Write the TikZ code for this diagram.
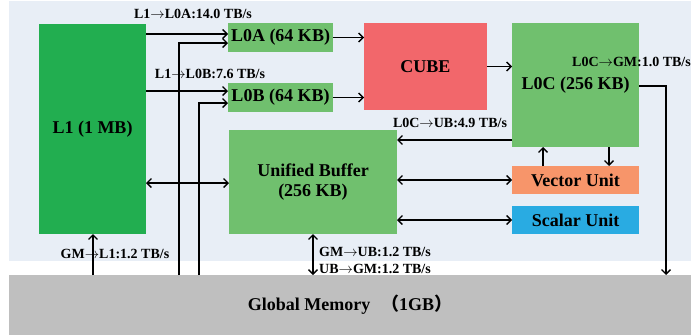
\documentclass[tikz,border=0pt]{standalone}
\usepackage{fontspec}
\setmainfont{Liberation Serif}
\newfontfamily\cjk{Noto Sans CJK SC}
\usetikzlibrary{arrows.meta}
\definecolor{bgblue}{RGB}{232,238,246}
\definecolor{dgreen}{RGB}{34,174,80}
\definecolor{lgreen}{RGB}{112,192,110}
\definecolor{cubered}{RGB}{242,103,107}
\definecolor{vecorange}{RGB}{247,149,106}
\definecolor{scablue}{RGB}{41,171,226}
\definecolor{gmgray}{RGB}{191,191,191}
\tikzset{
  blk/.style={inner sep=0pt, outer sep=0pt, font=\bfseries\fontsize{18}{20.5}\selectfont, align=center},
  lbl/.style={inner sep=0pt, font=\bfseries\fontsize{14}{15}\selectfont},
  arr/.style={line width=1.3pt, -{Straight Barb[length=4.5pt,width=9pt]}},
  darr/.style={line width=1.3pt, {Straight Barb[length=4.5pt,width=9pt]}-{Straight Barb[length=4.5pt,width=9pt]}}
}
\newcommand{\ra}{$\rightarrow$}
\begin{document}
\begin{tikzpicture}[x=1pt,y=-1pt]
\useasboundingbox (0,0) rectangle (691,335);
\fill[white] (0,0) rectangle (691,335);
\fill[bgblue] (9,1) rectangle (691,261);
\node[blk, fill=gmgray, minimum width=682pt, minimum height=60pt] (GM) at (350,305) {Global Memory\hspace{0.6em}{\cjk （}1GB{\cjk ）}};
\node[blk, fill=dgreen, minimum width=107pt, minimum height=210pt] (L1) at (92.5,129) {L1 (1 MB)};
\node[blk, fill=lgreen, minimum width=105pt, minimum height=29pt] (L0A) at (280.5,37.5) {L0A (64 KB)};
\node[blk, fill=lgreen, minimum width=105pt, minimum height=29pt] (L0B) at (280.5,97.5) {L0B (64 KB)};
\node[blk, fill=cubered, minimum width=123pt, minimum height=87pt] (CUBE) at (425.5,66.5) {CUBE};
\node[blk, fill=lgreen, minimum width=127pt, minimum height=124pt] (L0C) at (575.5,85) {L0C (256 KB)};
\node[blk, fill=lgreen, minimum width=168pt, minimum height=104pt] (UB) at (313,182) {Unified Buffer\\(256 KB)};
\node[blk, fill=vecorange, minimum width=127pt, minimum height=28pt] (VU) at (575.5,180) {Vector Unit};
\node[blk, fill=scablue, minimum width=127pt, minimum height=28pt] (SU) at (575.5,220) {Scalar Unit};

% L1 -> L0A / L0B
\draw[arr] (L1.east |- 0,34) -- (L0A.west |- 0,34);
\draw[arr] (L1.east |- 0,91) -- (L0B.west |- 0,91);
\node[lbl] (t1) at (193,14) {L1\ra L0A:14.0 TB/s};
\node[lbl] (t2) at (210,74) {L1\ra L0B:7.6 TB/s};
% GM -> L0A / L0B
\coordinate (g1) at (179,275);
\coordinate (g2) at (199,275);
\draw[arr] (g1) |- (L0A.west |- 0,43);
\draw[arr] (g2) |- (L0B.west |- 0,103);
% L0A/L0B -> CUBE
\draw[arr] (L0A.east) -- (CUBE.west |- L0A.east);
\draw[arr] (L0B.east) -- (CUBE.west |- L0B.east);
% CUBE -> L0C
\draw[arr] (CUBE.east) -- (L0C.west |- CUBE.east);
% L0C -> UB
\draw[arr] (L0C.west |- 0,140) -- (UB.east |- 0,140);
\node[lbl] (t3) at (450,123) {L0C\ra UB:4.9 TB/s};
% L0C -> GM
\coordinate (c1) at (666,86);
\draw[arr] (L0C.east |- c1) -- (c1) -- (c1 |- GM.north);
\node[lbl, anchor=east] (t4) at (691,62) {L0C\ra GM:1.0 TB/s};
% Vector <-> L0C
\draw[arr] (VU.north -| 543,0) -- (L0C.south -| 543,0);
\draw[arr] (L0C.south -| 609,0) -- (VU.north -| 609,0);
% UB <-> VU / SU
\draw[darr] (UB.east |- VU) -- (VU.west);
\draw[darr] (UB.east |- SU) -- (SU.west);
% L1 <-> UB
\draw[darr] (L1.east |- 0,183) -- (UB.west |- 0,183);
% GM -> L1
\draw[arr] (GM.north -| 93,0) -- (L1.south -| 93,0);
\node[lbl] (t5) at (115,254) {GM\ra L1:1.2 TB/s};
% UB <-> GM
\draw[darr] (UB.south) -- (UB.south |- GM.north);
\node[lbl, anchor=west] (t6) at (319,252) {GM\ra UB:1.2 TB/s};
\node[lbl, anchor=west] (t7) at (319,269) {UB\ra GM:1.2 TB/s};
\end{tikzpicture}
\end{document}
